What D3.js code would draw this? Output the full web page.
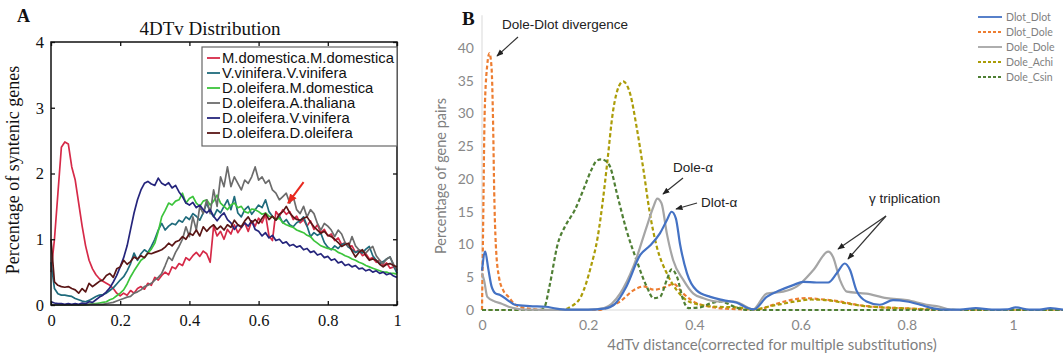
<!DOCTYPE html>
<html>
<head>
<meta charset="utf-8">
<script src="https://cdn.jsdelivr.net/npm/d3@7/dist/d3.min.js"></script>
<style>
  html, body { margin: 0; padding: 0; background: #fff; }
  svg { display: block; }
</style>
</head>
<body>
<svg id="chart" width="1063" height="359"></svg>
<script>
// ---------------- Panel A: 4DTv distribution (percentage of syntenic genes) ----------------
const distA = d3.range(0, 101).map(i => i / 100);   // 4DTv values 0.00 .. 1.00
const ticksAx = [0, 0.2, 0.4, 0.6, 0.8, 1];
const ticksAy = [0, 1, 2, 3, 4];
const namesA = ["M.domestica.M.domestica", "V.vinifera.V.vinifera", "D.oleifera.M.domestica",
                "D.oleifera.A.thaliana", "D.oleifera.V.vinifera", "D.oleifera.D.oleifera"];
const colorsA = ["#d62a48", "#1f6b7c", "#3cc43c", "#6c6c6c", "#25257c", "#5a1616"];

const mdomMdom = [0.50,1.00,1.70,2.40,2.48,2.45,2.10,1.90,1.55,1.20,0.90,0.68,0.55,0.46,0.40,0.36,0.33,0.30,0.25,0.18,
  0.14,0.18,0.15,0.22,0.18,0.25,0.28,0.24,0.33,0.30,0.42,0.38,0.45,0.50,0.46,0.58,0.55,0.63,0.60,0.72,
  0.68,0.75,0.80,0.74,0.82,0.78,0.65,1.20,1.05,1.12,1.00,1.15,1.08,1.22,1.10,1.18,1.25,1.12,1.28,1.20,
  1.32,1.25,1.38,1.05,0.98,1.42,1.35,1.45,1.38,1.42,1.30,1.35,1.25,1.30,1.20,1.28,1.15,1.22,1.10,1.15,
  1.05,1.08,0.98,1.02,0.92,0.95,0.88,0.90,0.80,0.84,0.75,0.78,0.70,0.72,0.65,0.68,0.60,0.64,0.56,0.58,0.52];
const vvinVvin = [0.65,0.25,0.17,0.15,0.15,0.14,0.13,0.10,0.08,0.06,0.05,0.07,0.10,0.13,0.15,0.16,0.18,0.22,0.26,0.32,
  0.38,0.43,0.52,0.63,0.79,0.68,0.78,0.84,0.80,0.89,1.00,1.14,1.24,1.14,1.20,1.24,1.22,1.29,1.26,1.34,
  1.30,1.39,1.35,1.29,1.40,1.55,1.42,1.34,1.45,1.40,1.50,1.60,1.45,1.65,1.40,1.34,1.45,1.50,1.38,1.45,
  1.52,1.48,1.60,1.42,1.35,1.29,1.35,1.25,1.30,1.22,1.19,1.25,1.28,1.34,1.20,1.04,1.10,1.06,1.09,0.95,
  0.88,0.84,0.90,0.86,0.92,0.94,0.88,0.84,0.80,0.82,0.79,0.85,0.89,0.75,0.68,0.63,0.66,0.70,0.73,0.60,0.48];
const doleMdom = [0.00,0.00,0.00,0.00,0.00,0.00,0.00,0.00,0.00,0.00,0.00,0.01,0.02,0.02,0.03,0.04,0.05,0.08,0.10,0.14,
  0.18,0.23,0.32,0.43,0.52,0.60,0.68,0.72,0.79,0.85,0.94,1.12,1.34,1.44,1.55,1.52,1.58,1.60,1.70,1.55,
  1.62,1.65,1.55,1.50,1.58,1.60,1.52,1.58,1.67,1.55,1.50,1.45,1.52,1.55,1.48,1.50,1.42,1.40,1.46,1.45,
  1.42,1.38,1.40,1.35,1.34,1.30,1.32,1.25,1.22,1.20,1.18,1.14,1.12,1.10,1.06,1.04,0.98,0.94,0.90,0.88,
  0.86,0.85,0.84,0.80,0.78,0.75,0.73,0.70,0.68,0.65,0.63,0.60,0.58,0.56,0.54,0.52,0.50,0.50,0.48,0.48,0.47];
const doleAtha = [0.00,0.00,0.00,0.00,0.00,0.00,0.00,0.00,0.00,0.00,0.01,0.01,0.01,0.01,0.01,0.01,0.02,0.03,0.04,0.06,
  0.08,0.10,0.12,0.13,0.18,0.20,0.23,0.28,0.30,0.33,0.38,0.42,0.48,0.60,0.73,0.68,0.80,0.89,1.00,1.19,
  1.04,1.34,1.14,1.50,1.39,1.60,1.39,1.75,1.50,1.95,1.80,2.10,1.80,1.95,1.85,1.75,1.90,1.85,1.95,2.10,
  1.90,1.95,1.85,1.90,1.75,1.70,1.60,1.65,1.70,1.55,1.65,1.45,1.39,1.50,1.34,1.45,1.39,1.24,1.14,1.24,
  1.20,1.14,1.04,1.14,1.08,0.95,0.89,1.04,0.90,0.84,0.82,0.79,0.85,0.89,0.75,0.68,0.63,0.70,0.73,0.62,0.53];
const doleVvin = [0.05,0.03,0.02,0.02,0.01,0.02,0.01,0.02,0.01,0.03,0.02,0.05,0.04,0.08,0.12,0.15,0.20,0.26,0.35,0.45,
  0.58,0.72,0.90,1.15,1.40,1.60,1.75,1.85,1.88,1.84,1.82,1.93,1.85,1.82,1.86,1.78,1.82,1.72,1.65,1.55,
  1.52,1.56,1.48,1.52,1.45,1.40,1.45,1.35,1.28,1.35,1.40,1.30,1.25,1.15,1.22,1.18,1.25,1.20,1.28,1.15,
  1.12,1.05,1.10,1.02,1.06,0.98,1.00,0.94,0.96,0.90,0.92,0.88,0.90,0.84,0.86,0.80,0.82,0.76,0.78,0.72,
  0.74,0.68,0.70,0.64,0.66,0.60,0.62,0.58,0.60,0.55,0.56,0.52,0.54,0.50,0.52,0.48,0.50,0.46,0.48,0.44,0.42];
const doleDole = [1.00,0.35,0.30,0.28,0.27,0.28,0.25,0.23,0.18,0.25,0.20,0.33,0.28,0.32,0.36,0.38,0.45,0.48,0.42,0.55,
  0.58,0.68,0.62,0.66,0.73,0.70,0.75,0.72,0.79,0.78,0.80,0.82,0.84,0.88,0.94,0.90,0.96,0.98,1.04,1.00,
  1.09,1.06,1.14,1.05,1.19,1.12,1.18,1.22,1.15,1.20,1.14,1.22,1.18,1.29,1.22,1.19,1.28,1.34,1.25,1.30,
  1.24,1.32,1.39,1.30,1.35,1.29,1.38,1.42,1.50,1.40,1.34,1.30,1.29,1.32,1.34,1.26,1.19,1.14,1.09,1.12,
  1.06,1.04,1.00,0.95,0.89,0.92,0.94,0.82,0.73,0.80,0.84,0.75,0.68,0.70,0.68,0.62,0.58,0.62,0.63,0.60,0.58];
const seriesA = [mdomMdom, vvinVvin, doleMdom, doleAtha, doleVvin, doleDole];

// ---------------- Panel B: 4dTv distance of gene pairs ----------------
const ticksBx = [0, 0.2, 0.4, 0.6, 0.8, 1];
const ticksBy = [0, 5, 10, 15, 20, 25, 30, 35, 40];
const namesB = ["Dlot_Dlot", "Dlot_Dole", "Dole_Dole", "Dole_Achi", "Dole_Csin"];
const colorsB = ["#4472c4", "#ed7d31", "#a5a5a5", "#ab9c07", "#4f7f34"];
const dashedB = [false, true, false, true, true];

const dlotDlotB = [[0,6.0],[0.006,8.9],[0.012,6.2],[0.018,3.6],[0.026,2.5],[0.034,2.3],[0.05,1.4],[0.062,0.8],[0.09,0.6],
  [0.12,0.5],[0.14,0.2],[0.16,0.05],[0.2,0.05],[0.23,0.2],[0.25,0.9],[0.272,3.6],[0.298,8.4],[0.316,9.8],[0.335,11.7],
  [0.348,13.7],[0.357,15.0],[0.365,14.0],[0.373,10.0],[0.386,5.6],[0.404,3.0],[0.43,2.0],[0.454,1.5],[0.48,1.1],[0.5,0.3],
  [0.512,0.1],[0.536,2.0],[0.561,3.0],[0.586,3.8],[0.605,4.3],[0.63,4.2],[0.652,4.2],[0.668,5.6],[0.683,7.1],[0.693,6.1],
  [0.705,3.0],[0.724,1.3],[0.749,0.8],[0.774,1.5],[0.8,1.3],[0.825,0.8],[0.85,0.25],[0.87,0.05],[0.9,0.05],[0.93,0.3],
  [0.96,0.05],[0.99,0.1],[1.005,0.4],[1.03,0.05],[1.05,0.05],[1.07,0.3],[1.094,0.05]];
const dlotDoleB = [[0,0],[0.002,12],[0.005,30],[0.01,37.5],[0.014,39.2],[0.018,37],[0.021,28],[0.023,18],[0.026,10],
  [0.032,5],[0.04,3],[0.05,2],[0.06,1],[0.075,0.4],[0.1,0.1],[0.12,0],[0.22,0],[0.24,0.5],[0.26,1.3],[0.285,3.0],
  [0.304,3.6],[0.323,3.1],[0.348,3.6],[0.36,4.0],[0.379,2.5],[0.398,1.3],[0.43,0.5],[0.46,0.2],[0.5,0.1],[0.52,0.1],
  [0.548,0.8],[0.58,1.5],[0.611,1.8],[0.643,1.6],[0.674,1.3],[0.705,0.8],[0.737,0.5],[0.8,0.25],[0.86,0],[1.094,0]];
const doleDoleB = [[0,5.6],[0.004,4.5],[0.01,2.0],[0.024,1.3],[0.036,1.0],[0.05,0.5],[0.062,0.25],[0.08,0.05],[0.2,0.02],
  [0.23,0.3],[0.26,2.5],[0.285,6.6],[0.31,12.7],[0.323,15.8],[0.33,17.0],[0.338,16.3],[0.348,11.7],[0.36,7.6],[0.379,4.6],
  [0.398,2.5],[0.417,1.8],[0.443,1.3],[0.473,1.3],[0.486,1.0],[0.51,0.1],[0.536,2.5],[0.567,2.8],[0.593,3.6],[0.624,6.1],
  [0.652,8.9],[0.661,8.1],[0.674,4.6],[0.687,2.8],[0.724,2.5],[0.762,1.8],[0.8,1.5],[0.837,0.8],[0.862,0.5],[0.881,0.05],[0.9,0]];
const doleAchiB = [[0,0],[0.15,0],[0.167,0.5],[0.186,2.0],[0.205,6.6],[0.218,11.2],[0.228,17],[0.235,21.9],[0.247,30.5],
  [0.258,34.2],[0.266,34.9],[0.273,34.3],[0.279,33],[0.291,28],[0.304,21.4],[0.316,14.8],[0.329,9.7],[0.348,5.6],[0.367,3.0],
  [0.385,1.5],[0.41,0.8],[0.44,0.5],[0.48,0.4],[0.51,0.1],[0.55,0.7],[0.59,1.3],[0.62,1.6],[0.65,1.5],[0.68,1.1],[0.72,0.6],
  [0.78,0.3],[0.85,0.1],[0.9,0],[1.094,0]];
const doleCsinB = [[0,0],[0.11,0],[0.118,0.5],[0.127,3.6],[0.143,10.2],[0.156,12.7],[0.175,15.3],[0.193,18.8],[0.206,21.4],
  [0.215,22.7],[0.224,23.0],[0.232,22.8],[0.241,21.9],[0.254,17.8],[0.272,12.2],[0.291,7.6],[0.31,3.6],[0.323,1.8],[0.335,2.0],
  [0.348,4.6],[0.357,6.2],[0.367,5.1],[0.379,1.5],[0.389,0.3],[0.41,0.4],[0.43,1.0],[0.45,1.3],[0.475,0.5],[0.5,0],[1.094,0]];
const seriesB = [dlotDlotB, dlotDoleB, doleDoleB, doleAchiB, doleCsinB];

const svg = d3.select("#chart");

// arrow markers
const defs = svg.append("defs");
function marker(id, color, size) {
  defs.append("marker").attr("id", id).attr("viewBox", "0 0 10 10").attr("refX", 9).attr("refY", 5)
    .attr("markerWidth", size).attr("markerHeight", size).attr("orient", "auto")
    .append("path").attr("d", "M0,1 L10,5 L0,9 Z").attr("fill", color);
}
marker("arrowK", "#222", 6);
marker("arrowR", "#e8281e", 5);

// ===== Panel A =====
const serif = "'Liberation Serif', 'Times New Roman', serif";
const sans = "'Liberation Sans', Arial, sans-serif";
const xA = d3.scaleLinear().domain([0, 1]).range([51, 397]);
const yA = d3.scaleLinear().domain([0, 4]).range([305, 42]);
const gA = svg.append("g");

const lineA = d3.line().x((d, i) => xA(distA[i])).y(d => yA(d));
seriesA.forEach((s, k) => {
  gA.append("path").datum(s).attr("d", lineA).attr("fill", "none")
    .attr("stroke", colorsA[k]).attr("stroke-width", 1.7).attr("stroke-linejoin", "round");
});

// frame with inward ticks on all sides
gA.append("rect").attr("x", xA(0)).attr("y", yA(4)).attr("width", xA(1) - xA(0)).attr("height", yA(0) - yA(4))
  .attr("fill", "none").attr("stroke", "#111").attr("stroke-width", 1.5);
const axBottom = d3.axisBottom(xA).tickValues(ticksAx).tickSizeInner(-4).tickSizeOuter(0)
  .tickFormat(d => d === 0 || d === 1 ? d3.format("d")(d) : d3.format(".1f")(d)).tickPadding(9);
const gxA = gA.append("g").attr("transform", `translate(0,${yA(0)})`).call(axBottom);
gA.append("g").attr("transform", `translate(0,${yA(4)})`)
  .call(d3.axisTop(xA).tickValues(ticksAx).tickSizeInner(-4).tickSizeOuter(0).tickFormat(""));
const gyA = gA.append("g").attr("transform", `translate(${xA(0)},0)`)
  .call(d3.axisLeft(yA).tickValues(ticksAy).tickSizeInner(-4).tickSizeOuter(0).tickPadding(7)
    .tickFormat(d3.format("d")));
gA.append("g").attr("transform", `translate(${xA(1)},0)`)
  .call(d3.axisRight(yA).tickValues(ticksAy).tickSizeInner(-4).tickSizeOuter(0).tickFormat(""));
gA.selectAll(".domain").remove();
gA.selectAll(".tick line").attr("stroke", "#111").attr("stroke-width", 1.3);
[gxA, gyA].forEach(g => g.selectAll("text").attr("font-family", serif).attr("font-size", 16.5).attr("fill", "#111"));

// title, panel letter, y label
gA.append("text").attr("x", 210).attr("y", 35).attr("text-anchor", "middle")
  .attr("font-family", serif).attr("font-size", 19).attr("fill", "#111").text("4DTv Distribution");
gA.append("text").attr("x", 17).attr("y", 22).attr("font-family", serif).attr("font-weight", "bold")
  .attr("font-size", 18).attr("fill", "#111").text("A");
gA.append("text").attr("transform", "translate(19,170) rotate(-90)").attr("text-anchor", "middle")
  .attr("font-family", serif).attr("font-size", 18).attr("fill", "#111").text("Percentage of syntenic genes");

// legend A
const legA = gA.append("g");
legA.append("rect").attr("x", 202).attr("y", 47).attr("width", 195).attr("height", 99)
  .attr("fill", "#fff").attr("stroke", "#666").attr("stroke-width", 1.2);
namesA.forEach((n, k) => {
  const y = 58 + k * 15;
  legA.append("line").attr("x1", 207).attr("x2", 220).attr("y1", y).attr("y2", y)
    .attr("stroke", colorsA[k]).attr("stroke-width", 1.8);
  legA.append("text").attr("x", 222).attr("y", y).attr("dy", "0.36em").attr("font-family", sans)
    .attr("font-size", 14.8).attr("fill", "#111").text(n);
});

// red arrow pointing at the D.oleifera.D.oleifera shoulder
gA.append("line").attr("x1", xA(0.73)).attr("y1", yA(1.87)).attr("x2", xA(0.685)).attr("y2", yA(1.55))
  .attr("stroke", "#e8281e").attr("stroke-width", 2).attr("marker-end", "url(#arrowR)");

// ===== Panel B =====
const lato = "Lato, 'Open Sans', sans-serif";
const xB = d3.scaleLinear().domain([0, 1.094]).range([482, 1063]);
const yB = d3.scaleLinear().domain([0, 40]).range([310, 48]);
const gB = svg.append("g");

// axes (light grey lines, no tick marks)
gB.append("line").attr("x1", xB(0)).attr("x2", xB(0)).attr("y1", yB(45)).attr("y2", yB(0))
  .attr("stroke", "#d9d9d9").attr("stroke-width", 1);
gB.append("line").attr("x1", xB(0)).attr("x2", 1063).attr("y1", yB(0)).attr("y2", yB(0))
  .attr("stroke", "#d9d9d9").attr("stroke-width", 1);
const gxB = gB.append("g").attr("transform", `translate(0,${yB(0)})`)
  .call(d3.axisBottom(xB).tickValues(ticksBx).tickSize(0).tickPadding(10)
    .tickFormat(d => d === 0 || d === 1 ? d3.format("d")(d) : d3.format(".1f")(d)));
const gyB = gB.append("g").attr("transform", `translate(${xB(0)},0)`)
  .call(d3.axisLeft(yB).tickValues(ticksBy).tickSize(0).tickPadding(8));
gB.selectAll(".domain").remove();
[gxB, gyB].forEach(g => g.selectAll("text").attr("font-family", lato).attr("font-size", 14).attr("fill", "#888"));

const lineB = d3.line().x(d => xB(d[0])).y(d => yB(d[1])).curve(d3.curveMonotoneX);
// dashed series first, solid ones over them
[1, 3, 4, 2, 0].forEach(k => {
  gB.append("path").datum(seriesB[k]).attr("d", lineB).attr("fill", "none")
    .attr("stroke", colorsB[k]).attr("stroke-width", 2.2)
    .attr("stroke-dasharray", dashedB[k] ? "4,2.5" : null);
});

// axis titles and panel letter
gB.append("text").attr("x", 772).attr("y", 350).attr("text-anchor", "middle").attr("font-family", lato)
  .attr("font-size", 15).attr("fill", "#7f7f7f").text("4dTv distance(corrected for multiple substitutions)");
gB.append("text").attr("transform", "translate(446,176) rotate(-90)").attr("text-anchor", "middle")
  .attr("font-family", lato).attr("font-size", 14.5).attr("fill", "#7f7f7f").text("Percentage of gene pairs");
gB.append("text").attr("x", 462).attr("y", 25).attr("font-family", serif).attr("font-weight", "bold")
  .attr("font-size", 19).attr("fill", "#111").text("B");

// legend B
namesB.forEach((n, k) => {
  const y = 17 + k * 15;
  gB.append("line").attr("x1", 978).attr("x2", 1002).attr("y1", y).attr("y2", y)
    .attr("stroke", colorsB[k]).attr("stroke-width", 1.8).attr("stroke-dasharray", dashedB[k] ? "3,2" : null);
  gB.append("text").attr("x", 1006).attr("y", y).attr("dy", "0.35em").attr("font-family", lato)
    .attr("font-size", 10.5).attr("fill", "#7f7f7f").text(n);
});

// annotations
const ann = gB.append("g").attr("font-family", sans).attr("font-size", 13.5).attr("fill", "#222");
ann.append("text").attr("x", 502).attr("y", 29).text("Dole-Dlot divergence");
ann.append("text").attr("x", 673).attr("y", 172).text("Dole-α");
ann.append("text").attr("x", 701).attr("y", 207).text("Dlot-α");
ann.append("text").attr("x", 869).attr("y", 203).text("γ triplication");
const arrows = [
  [518, 37, 497, 56],
  [683, 178, 663, 194],
  [697, 203, 676, 209],
  [886, 216, 838, 249],
  [886, 216, 848, 259]
];
arrows.forEach(a => {
  gB.append("line").attr("x1", a[0]).attr("y1", a[1]).attr("x2", a[2]).attr("y2", a[3])
    .attr("stroke", "#333").attr("stroke-width", 1.2).attr("marker-end", "url(#arrowK)");
});
</script>
</body>
</html>
